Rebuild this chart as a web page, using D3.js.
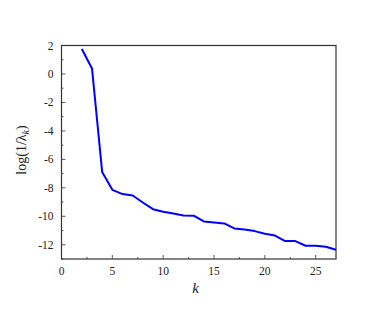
<!DOCTYPE html>
<html>
<head>
<meta charset="utf-8">
<script src="https://cdn.jsdelivr.net/npm/d3@7"></script>
<style>
  body { margin: 0; background: #fff; }
  text { font-family: "Liberation Serif", "DejaVu Serif", serif; fill: #222; }
</style>
</head>
<body>
<div id="chart"></div>
<script>
// eigenvalue decay, log(1/lambda_k) against k
const ks = [2, 3, 4, 5, 6, 7, 8, 9, 10, 11, 12, 13, 14, 15, 16, 17, 18, 19, 20, 21, 22, 23, 24, 25, 26, 27];
const logInvLambda = [1.75, 0.39, -6.88, -8.14, -8.44, -8.54, -9.03, -9.5, -9.68, -9.8, -9.94, -9.96,
  -10.36, -10.43, -10.5, -10.85, -10.92, -11.04, -11.23, -11.35, -11.74, -11.74, -12.07, -12.07, -12.14, -12.35];
const xTicks = [0, 5, 10, 15, 20, 25];
const yTicks = [2, 0, -2, -4, -6, -8, -10, -12];

const width = 374, height = 309;
const margin = { top: 45.5, right: 38, bottom: 50, left: 61.5 };
const innerW = width - margin.left - margin.right;
const innerH = height - margin.top - margin.bottom;

const svg = d3.select("#chart").append("svg")
  .attr("width", width)
  .attr("height", height);

const g = svg.append("g")
  .attr("transform", `translate(${margin.left},${margin.top})`);

const x = d3.scaleLinear().domain([0, 27]).range([0, innerW]);
const y = d3.scaleLinear().domain([-13, 2]).range([innerH, 0]);

// minor ticks (inside)
const xMinor = d3.range(2.5, 27, 5);
const yMinor = d3.range(-13, 2, 2);

g.selectAll(".xminor").data(xMinor).join("line")
  .attr("x1", d => x(d)).attr("x2", d => x(d))
  .attr("y1", innerH).attr("y2", innerH - 2)
  .attr("stroke", "#333").attr("stroke-width", 0.8);
g.selectAll(".xmajor").data(xTicks).join("line")
  .attr("x1", d => x(d)).attr("x2", d => x(d))
  .attr("y1", innerH).attr("y2", innerH - 4)
  .attr("stroke", "#333").attr("stroke-width", 0.8);
g.selectAll(".yminor").data(yMinor).join("line")
  .attr("x1", 0).attr("x2", 2)
  .attr("y1", d => y(d)).attr("y2", d => y(d))
  .attr("stroke", "#333").attr("stroke-width", 0.8);
g.selectAll(".ymajor").data(yTicks).join("line")
  .attr("x1", 0).attr("x2", 4)
  .attr("y1", d => y(d)).attr("y2", d => y(d))
  .attr("stroke", "#333").attr("stroke-width", 0.8);

// tick labels
g.selectAll(".xlab").data(xTicks).join("text")
  .attr("x", d => x(d)).attr("y", innerH + 16)
  .attr("text-anchor", "middle")
  .attr("font-size", 11.5)
  .text(d => d);
g.selectAll(".ylab").data(yTicks).join("text")
  .attr("x", -8).attr("y", d => y(d))
  .attr("dy", "0.35em")
  .attr("text-anchor", "end")
  .attr("font-size", 11.5)
  .text(d => d);

// frame
g.append("rect")
  .attr("width", innerW).attr("height", innerH)
  .attr("fill", "none").attr("stroke", "#333").attr("stroke-width", 1.2);

// data line
const line = d3.line()
  .x((d, i) => x(ks[i]))
  .y(d => y(d));

g.append("path")
  .datum(logInvLambda)
  .attr("fill", "none")
  .attr("stroke", "#0000ff")
  .attr("stroke-width", 2)
  .attr("stroke-linejoin", "round")
  .attr("d", line);

// axis titles
svg.append("text")
  .attr("x", margin.left + x(13.2)).attr("y", 293)
  .attr("text-anchor", "middle")
  .attr("font-size", 15)
  .attr("font-style", "italic")
  .text("k");

const yl = svg.append("text")
  .attr("transform", "translate(26,150) rotate(-90)")
  .attr("text-anchor", "middle")
  .attr("font-size", 14);
yl.append("tspan").text("log(1/λ");
yl.append("tspan").attr("font-size", 10).attr("dy", 3).attr("font-style", "italic").text("k");
yl.append("tspan").attr("dy", -3).text(")");
</script>
</body>
</html>
